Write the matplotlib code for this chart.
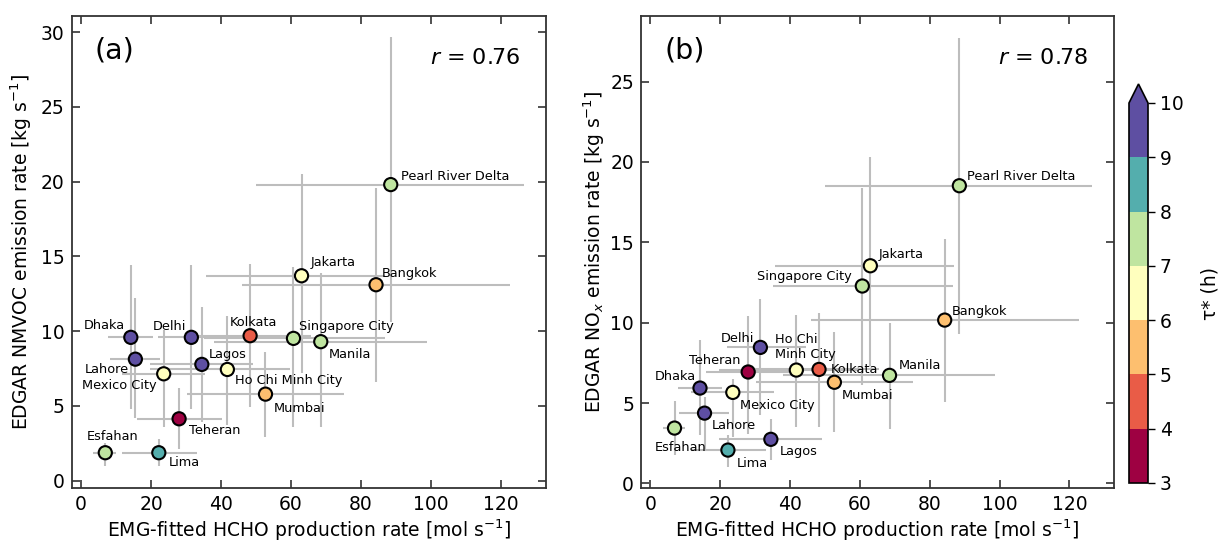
import numpy as np
import matplotlib
matplotlib.use("Agg")
import matplotlib.pyplot as plt
from matplotlib.colors import ListedColormap, BoundaryNorm

# ---------------- data ----------------
cities = ["Pearl River Delta", "Jakarta", "Bangkok", "Singapore City", "Manila",
          "Kolkata", "Delhi", "Dhaka", "Lahore", "Lagos", "Ho Chi Minh City",
          "Mexico City", "Mumbai", "Teheran", "Esfahan", "Lima"]

hcho = [88.5, 63.0, 84.3, 60.7, 68.5, 48.3, 31.5, 14.2, 15.5, 34.5, 41.8, 23.6, 52.7, 28.0, 6.9, 22.2]
hcho_lo = [50.0, 35.7, 45.9, 35.0, 38.0, 30.0, 22.0, 7.8, 8.3, 19.7, 19.7, 11.7, 30.2, 15.9, 3.5, 11.6]
hcho_hi = [126.6, 87.0, 122.7, 86.8, 98.8, 65.6, 44.6, 20.6, 22.6, 49.2, 59.7, 35.5, 75.1, 40.2, 10.0, 33.1]

nmvoc = [19.8, 13.7, 13.1, 9.51, 9.29, 9.69, 9.58, 9.58, 8.12, 7.77, 7.43, 7.14, 5.78, 4.13, 1.86, 1.86]
nmvoc_lo = [10.6, 7.2, 6.6, 3.6, 3.6, 4.9, 4.8, 4.8, 4.2, 3.9, 3.7, 3.6, 2.9, 2.1, 1.0, 0.96]
nmvoc_hi = [29.7, 20.5, 19.6, 14.3, 13.9, 14.5, 14.4, 14.4, 12.2, 11.6, 11.0, 10.1, 8.6, 6.2, 2.5, 2.75]

nox = [18.52, 13.54, 10.16, 12.28, 6.72, 7.09, 8.46, 5.93, 4.37, 2.74, 7.05, 5.66, 6.29, 6.93, 3.44, 2.07]
nox_lo = [9.27, 7.3, 5.05, 6.1, 3.4, 3.5, 4.25, 3.0, 2.1, 1.45, 3.5, 2.9, 3.2, 3.1, 1.76, 1.0]
nox_hi = [27.7, 20.3, 15.2, 18.4, 10.0, 10.6, 11.5, 8.9, 5.4, 4.0, 10.5, 6.5, 9.4, 10.4, 5.1, 3.0]

tau = [7.5, 6.5, 5.5, 7.5, 7.5, 4.5, 9.5, 9.5, 9.5, 9.5, 6.5, 6.5, 5.5, 3.5, 7.5, 8.5]

r_values = [0.76, 0.78]
tau_bounds = [3, 4, 5, 6, 7, 8, 9, 10]

# ---------------- styling ----------------
# label offsets in pixels (dx, dy, ha)
offs_a = {
    "Pearl River Delta": (10, 8, "left"), "Jakarta": (9, 13, "left"),
    "Bangkok": (6, 11, "left"), "Singapore City": (6, 12, "left"),
    "Manila": (8, -13, "left"), "Kolkata": (3, 13, "center"),
    "Delhi": (-5, 11, "right"), "Dhaka": (-6, 12, "right"),
    "Lahore": (-6, -10, "right"), "Lagos": (7, 10, "left"),
    "Ho Chi Minh City": (8, -11, "left"), "Mexico City": (-7, -12, "right"),
    "Mumbai": (8, -14, "left"), "Teheran": (10, -12, "left"),
    "Esfahan": (7, 16, "center"), "Lima": (10, -10, "left"),
}
offs_b = {
    "Pearl River Delta": (8, 9, "left"), "Jakarta": (8, 11, "left"),
    "Bangkok": (7, 9, "left"), "Singapore City": (-11, 10, "right"),
    "Manila": (9, 10, "left"), "Kolkata": (12, 0, "left"),
    "Delhi": (-6, 9, "right"), "Dhaka": (-4, 12, "right"),
    "Lahore": (7, -12, "left"), "Lagos": (9, -12, "left"),
    "Ho Chi Minh City": (-21, 23, "left"), "Mexico City": (7, -13, "left"),
    "Mumbai": (7, -13, "left"), "Teheran": (-8, 11, "right"),
    "Esfahan": (6, -19, "center"), "Lima": (9, -13, "left"),
}

plt.rcParams['font.family'] = ['DejaVu Sans']
spine_col = '#333333'
FS = 13.5

cmap_full = plt.get_cmap('Spectral')
cols = [cmap_full(i / 6) for i in range(7)]
cmap = ListedColormap(cols)
cmap.set_over(cols[-1])
norm = BoundaryNorm(tau_bounds, cmap.N)

fig = plt.figure(figsize=(12.2, 5.41), dpi=100)
W, H = 1220, 541
ax_a = fig.add_axes([71.7 / W, 1 - 487.7 / H, 474 / W, 472 / H])
ax_b = fig.add_axes([641 / W, 1 - 487.7 / H, 473 / W, 472 / H])
cax = fig.add_axes([1129 / W, 1 - 483 / H, 19 / W, 399 / H])

x = np.array(hcho)
xerr = [x - np.array(hcho_lo), np.array(hcho_hi) - x]

panels = [
    (ax_a, nmvoc, nmvoc_lo, nmvoc_hi, offs_a, "(a)", r_values[0],
     "EDGAR NMVOC emission rate [kg s$^{-1}$]", (-0.48, 31.1), np.arange(0, 31, 5), -0.107),
    (ax_b, nox, nox_lo, nox_hi, offs_b, "(b)", r_values[1],
     "EDGAR NO$_x$ emission rate [kg s$^{-1}$]", (-0.27, 29.1), np.arange(0, 26, 5), -0.099),
]

for ax, yv, ylo, yhi, offs, tag, r, ylab, ylim, yt, ylx in panels:
    y = np.array(yv)
    yerr = [y - np.array(ylo), np.array(yhi) - y]
    ax.errorbar(x, y, xerr=xerr, yerr=yerr, fmt='none', ecolor='#bdbdbd',
                elinewidth=1.5, capsize=0, zorder=1)
    ax.scatter(x, y, c=tau, cmap=cmap, norm=norm, s=90, edgecolors='black',
               linewidths=1.5, zorder=3)
    for name, xi, yi in zip(cities, x, y):
        dx, dy, ha = offs[name]
        label = "Ho Chi\nMinh City" if (ax is ax_b and name == "Ho Chi Minh City") else name
        ax.annotate(label, (xi, yi), xytext=(dx, dy), textcoords='offset pixels',
                    ha=ha, va='center', fontsize=9.3, zorder=4,
                    multialignment='left')
    ax.set_xlim(-2.7, 132.8)
    ax.set_ylim(*ylim)
    ax.set_xticks(np.arange(0, 121, 20))
    ax.set_yticks(yt)
    ax.tick_params(direction='in', top=True, right=True, length=5.5, width=1.2,
                   labelsize=FS, color=spine_col, pad=5)
    for sp in ax.spines.values():
        sp.set_color(spine_col)
        sp.set_linewidth(1.3)
    ax.set_xlabel("EMG-fitted HCHO production rate [mol s$^{-1}$]", fontsize=FS)
    ax.xaxis.set_label_coords(0.5, -0.063)
    ax.set_ylabel(ylab, fontsize=FS)
    ax.yaxis.set_label_coords(ylx, 0.5)
    ax.yaxis.label.set_va('center')
    ax.text(0.049, 0.927, tag, transform=ax.transAxes, fontsize=20.5, va='center', ha='left')
    ax.text(0.946, 0.91, f"$r$ = {r:.2f}", transform=ax.transAxes, fontsize=16,
            va='center', ha='right')

sm = matplotlib.cm.ScalarMappable(norm=norm, cmap=cmap)
cb = fig.colorbar(sm, cax=cax, extend='max', ticks=tau_bounds)
cb.ax.tick_params(labelsize=FS, length=5, width=1.0)
cb.outline.set_linewidth(1.2)
cb.set_label("τ* (h)", fontsize=FS, labelpad=12)

fig.savefig("out.png", dpi=100)
